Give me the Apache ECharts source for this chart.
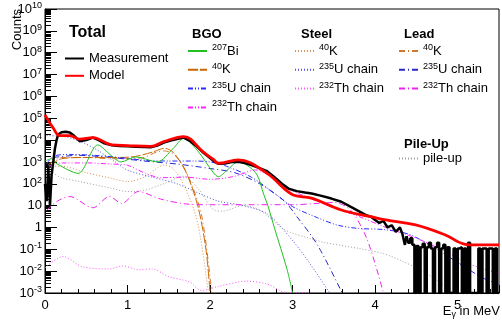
<!DOCTYPE html>
<html>
<head>
<meta charset="utf-8">
<script src="https://cdn.jsdelivr.net/npm/echarts@6/dist/echarts.min.js"></script>
<style>
  html, body { margin: 0; padding: 0; background: #fff; }
  #chart { width: 502px; height: 329px; }
</style>
</head>
<body>
<div id="chart"></div>
<script>
// [E in MeV, counts]
const measurement = [
  [0.00, 100], [0.02, 16], [0.04, 630], [0.06, 10], [0.08, 250], [0.10, 1000], [0.12, 4000],
  [0.14, 1e4], [0.16, 1.8e4], [0.20, 2.3e4], [0.25, 2.4e4], [0.30, 2.2e4], [0.35, 1.6e4],
  [0.42, 8900], [0.50, 1e4], [0.58, 1.3e4], [0.65, 1e4], [0.72, 7100], [0.81, 5800],
  [0.90, 5400], [1.00, 5200], [1.10, 5000], [1.20, 4800], [1.28, 4700], [1.36, 5600],
  [1.44, 7600], [1.52, 9500], [1.60, 1.12e4], [1.68, 1.3e4], [1.76, 8900], [1.84, 5000],
  [1.92, 2600], [2.00, 1500], [2.05, 1050], [2.10, 830], [2.18, 850], [2.26, 980],
  [2.34, 1020], [2.42, 890], [2.50, 710], [2.60, 520], [2.69, 380], [2.78, 200],
  [2.87, 100], [2.95, 60], [3.05, 46], [3.15, 40], [3.23, 36], [3.35, 28], [3.47, 21],
  [3.59, 15], [3.70, 8.9], [3.80, 5.6], [3.90, 3.5], [3.95, 3.1], [4.00, 2.2], [4.05, 1.6],
  [4.10, 2.0], [4.15, 1.0], [4.20, 1.26], [4.25, 0.63], [4.30, 1.0], [4.33, 0.5],
  [4.36, 0.16], [4.38, 0.4]
];
// sparse tail, empty bins drawn at the axis floor
const measurementTail = [
  [4.38, 0.4], [4.40, 0.2], [4.425, 0.32], [4.45, 0.16], [4.475, 0.001], [4.50, 0.14],
  [4.525, 0.001], [4.55, 0.125], [4.575, 0.18], [4.60, 0.001], [4.625, 0.125], [4.65, 0.2],
  [4.675, 0.11], [4.70, 0.001], [4.725, 0.125], [4.75, 0.2], [4.775, 0.001], [4.80, 0.11],
  [4.825, 0.16], [4.85, 0.001], [4.875, 0.125], [4.90, 0.001], [4.925, 0.001], [4.95, 0.11],
  [4.975, 0.001], [5.00, 0.11], [5.025, 0.125], [5.05, 0.001], [5.075, 0.11], [5.10, 0.001],
  [5.125, 0.2], [5.15, 0.001], [5.175, 0.001], [5.20, 0.001], [5.225, 0.001], [5.25, 0.11],
  [5.275, 0.001], [5.30, 0.11], [5.325, 0.11], [5.35, 0.001], [5.375, 0.11], [5.40, 0.11],
  [5.425, 0.001], [5.45, 0.11], [5.475, 0.001], [5.50, 0.001]
];
const model = [
  [0, 1.4e5], [0.1, 3.5e4], [0.18, 1.6e4], [0.3, 1.6e4], [0.42, 1.1e4], [0.58, 1.3e4],
  [0.81, 6000], [1.0, 5600], [1.28, 5200], [1.44, 8500], [1.68, 1.45e4], [1.92, 2800],
  [2.04, 1300], [2.10, 870], [2.34, 1230], [2.69, 300], [2.99, 33], [3.23, 22], [3.59, 6.3],
  [3.95, 3.1], [4.13, 2.2], [4.49, 1.3], [4.85, 0.45], [5.09, 0.17], [5.2, 0.16], [5.5, 0.16]
];
const bgoBi = [
  [0, 1100], [0.08, 1400], [0.15, 800], [0.4, 300], [0.64, 6000], [0.8, 2000], [0.92, 1000],
  [1.1, 1700], [1.36, 1000], [1.55, 4000], [1.68, 1.2e4], [1.85, 3200], [2.04, 320],
  [2.10, 210], [2.2, 400], [2.34, 1000], [2.45, 700], [2.57, 250], [2.65, 32], [2.7, 10],
  [2.78, 0.93], [2.93, 0.013], [3.0, 0.001]
];
const bgoK = [
  [0.05, 630], [0.2, 1400], [0.5, 1600], [0.9, 1600], [1.1, 1800], [1.3, 2800], [1.45, 4200],
  [1.55, 2800], [1.7, 400], [1.85, 10], [1.95, 0.1], [2.0, 0.001]
];
const bgoU = [
  [0.02, 800], [0.1, 1800], [0.3, 2200], [0.6, 2000], [0.9, 1600], [1.2, 1200], [1.5, 1100],
  [1.8, 1100], [2.0, 1000], [2.2, 630], [2.5, 200], [2.8, 32], [3.0, 9], [3.3, 2.8],
  [3.55, 1.26], [3.8, 0.9], [4.1, 0.8], [4.4, 0.5], [4.7, 0.13], [5.0, 0.025], [5.3, 0.005],
  [5.5, 0.0025]
];
const bgoTh = [
  [0.05, 630], [0.2, 900], [0.5, 900], [0.8, 800], [1.0, 700], [1.2, 320], [1.4, 190],
  [1.7, 200], [2.0, 160], [2.3, 220], [2.55, 430], [2.75, 200], [2.9, 70], [3.1, 32],
  [3.3, 16], [3.5, 8], [3.8, 3.2], [4.13, 1.0], [4.5, 0.32], [4.85, 0.08], [5.1, 0.025],
  [5.3, 0.013], [5.5, 0.008]
];
const steelK = [
  [0.05, 630], [0.2, 630], [0.5, 320], [0.8, 180], [1.0, 126], [1.2, 200], [1.35, 500],
  [1.44, 720], [1.55, 500], [1.7, 63], [1.85, 1.6], [1.98, 0.001]
];
const steelU = [
  [0.02, 1.6e4], [0.25, 1.4e4], [0.45, 8000], [0.65, 3200], [0.85, 1000], [1.0, 420],
  [1.3, 200], [1.6, 100], [1.9, 32], [2.1, 16], [2.4, 10], [2.7, 4], [3.0, 0.25],
  [3.2, 0.025], [3.45, 0.001]
];
const steelTh = [
  [0, 0.014], [0.22, 0.047], [0.45, 0.016], [0.78, 0.0126], [0.94, 0.0174], [1.14, 0.0115],
  [1.3, 0.0126], [1.5, 0.0056], [1.75, 0.0032], [1.9, 0.0013], [2.1, 0.002], [2.45, 0.0035],
  [2.7, 0.0025], [2.9, 0.0011], [3.2, 0.001]
];
const leadK = [
  [0.05, 800], [0.2, 1600], [0.5, 1600], [0.8, 1400], [1.0, 1400], [1.2, 1600], [1.35, 2800],
  [1.45, 3200], [1.6, 1600], [1.75, 160], [1.9, 3.2], [2.02, 0.001]
];
const leadU = [
  [0.1, 1600], [0.4, 2000], [0.8, 1600], [1.2, 1100], [1.6, 800], [2.0, 500], [2.3, 320],
  [2.6, 100], [2.9, 16], [3.05, 3.2], [3.3, 0.16], [3.6, 0.001]
];
const leadTh = [
  [0.02, 6], [0.15, 16], [0.3, 26], [0.58, 8], [0.78, 26], [0.93, 12.6], [1.13, 44],
  [1.4, 20], [1.7, 12], [2.0, 11], [2.5, 11], [3.0, 11], [3.3, 12.6], [3.5, 14],
  [3.7, 6.3], [3.9, 0.3], [4.1, 0.001]
];
const pileUp = [
  [0.03, 1000], [0.1, 320], [0.2, 190], [0.42, 126], [0.8, 63], [1.0, 44], [1.2, 50],
  [1.44, 100], [1.68, 220], [1.85, 63], [2.05, 6.3], [2.15, 5.6], [2.4, 10], [2.6, 6.3],
  [2.9, 0.8], [3.2, 0.32], [3.4, 0.2], [3.8, 0.11], [4.1, 0.063], [4.3, 0.032],
  [4.5, 0.014], [4.7, 0.005], [4.85, 0.002], [4.95, 0.001]
];

const font = 'Liberation Sans';
const rich = {
  n: { fontSize: 13, lineHeight: 16, fontFamily: font, color: '#000' },
  s: { fontSize: 9, lineHeight: 10, verticalAlign: 'top', fontFamily: font, color: '#000' }
};
const legendText = {
  'Measurement': '{n|Measurement}', 'Model': '{n|Model}',
  'BGO 207Bi': '{s|207}{n|Bi}', 'BGO 40K': '{s|40}{n|K}',
  'BGO 235U': '{s|235}{n|U chain}', 'BGO 232Th': '{s|232}{n|Th chain}',
  'Steel 40K': '{s|40}{n|K}', 'Steel 235U': '{s|235}{n|U chain}', 'Steel 232Th': '{s|232}{n|Th chain}',
  'Lead 40K': '{s|40}{n|K}', 'Lead 235U': '{s|235}{n|U chain}', 'Lead 232Th': '{s|232}{n|Th chain}',
  'pile-up': '{n|pile-up}'
};

function comp(name, data, color, dash) {
  return {
    name, type: 'line', data, smooth: 0.3, symbol: 'none', z: 2, color,
    lineStyle: { color, width: 1, type: dash }
  };
}

function legendBox(names, left, top) {
  return {
    data: names, left, top, orient: 'vertical', padding: 0,
    itemWidth: 19, itemHeight: 10, itemGap: 4.3,
    itemStyle: { opacity: 0 },
    formatter: name => legendText[name],
    textStyle: { rich }
  };
}

const chart = echarts.init(document.getElementById('chart'));
chart.setOption({
  animation: false,
  grid: { left: 45, right: -2, top: 9, bottom: 36, show: true, borderColor: '#000', borderWidth: 1 },
  xAxis: {
    type: 'value', min: 0, max: 5.5, interval: 1,
    axisLine: { lineStyle: { color: '#000' } },
    axisTick: { inside: true, length: 8, lineStyle: { color: '#000' } },
    minorTick: { show: true, splitNumber: 5, length: 4, lineStyle: { color: '#000' } },
    splitLine: { show: false },
    axisLabel: {
      fontSize: 13, fontFamily: font, color: '#000', margin: 6,
      formatter: v => (Number.isInteger(v) ? String(v) : '')
    }
  },
  yAxis: {
    type: 'log', min: 0.001, max: 1e10, interval: 1,
    axisLine: { lineStyle: { color: '#000' } },
    axisTick: { inside: true, length: 12, lineStyle: { color: '#000' } },
    minorTick: { show: true, splitNumber: 10, length: 6, lineStyle: { color: '#000' } },
    splitLine: { show: false },
    axisLabel: {
      margin: 3, rich,
      formatter: v => {
        const e = Math.round(Math.log10(v));
        if (e === 0) return '{n|1}';
        if (e === 1) return '{n|10}';
        return '{n|10}{s|' + (e < 0 ? '-' + (-e) : e) + '}';
      }
    }
  },
  title: [
    { text: 'Total', left: 64, top: 20, textStyle: { fontSize: 16, fontWeight: 'bold', fontFamily: font, color: '#000' } },
    { text: 'BGO', left: 187, top: 23, textStyle: { fontSize: 13, fontWeight: 'bold', fontFamily: font, color: '#000' } },
    { text: 'Steel', left: 296, top: 23, textStyle: { fontSize: 13, fontWeight: 'bold', fontFamily: font, color: '#000' } },
    { text: 'Lead', left: 399, top: 23, textStyle: { fontSize: 13, fontWeight: 'bold', fontFamily: font, color: '#000' } },
    { text: 'Pile-Up', left: 399, top: 133, textStyle: { fontSize: 13, fontWeight: 'bold', fontFamily: font, color: '#000' } }
  ],
  legend: [
    legendBox(['Measurement', 'Model'], 64, 52),
    legendBox(['BGO 207Bi', 'BGO 40K', 'BGO 235U', 'BGO 232Th'], 187, 43),
    legendBox(['Steel 40K', 'Steel 235U', 'Steel 232Th'], 294, 43),
    legendBox(['Lead 40K', 'Lead 235U', 'Lead 232Th'], 398, 43),
    legendBox(['pile-up'], 398, 152)
  ],
  graphic: [
    { type: 'text', x: 17, y: 9, rotation: Math.PI / 2,
      style: { text: 'Counts', font: '13px "Liberation Sans"', fill: '#000', align: 'right', verticalAlign: 'middle' } },
    { type: 'text', right: 2, top: 305,
      style: { text: '{n|E}{b|γ}{n| in MeV}', fill: '#000',
        rich: {
          n: { fontSize: 13, lineHeight: 16, fontFamily: font, color: '#000' },
          b: { fontSize: 9, lineHeight: 10, verticalAlign: 'bottom', fontFamily: font, color: '#000' }
        } } }
  ],
  series: [
    comp('pile-up', pileUp, '#a0a0a0', [1, 2]),
    comp('Steel 40K', steelK, '#d4935a', [1, 2]),
    comp('Steel 235U', steelU, '#5050dd', [1, 2]),
    comp('Steel 232Th', steelTh, '#ff55ff', [1, 2]),
    comp('Lead 40K', leadK, '#d2782a', [6, 3, 1, 3]),
    comp('Lead 235U', leadU, '#2828c8', [6, 3, 1, 3]),
    comp('Lead 232Th', leadTh, '#ee22ee', [6, 3, 1, 3]),
    comp('BGO 40K', bgoK, '#cc6600', [10, 2]),
    comp('BGO 235U', bgoU, '#2a2aff', [5, 2, 1, 2, 1, 2]),
    comp('BGO 232Th', bgoTh, '#ff22ff', [5, 2, 1, 2, 1, 2]),
    comp('BGO 207Bi', bgoBi, '#22c022', 'solid'),
    { name: 'Measurement', type: 'line', data: measurement, symbol: 'none', z: 3, color: '#000',
      lineStyle: { color: '#000', width: 2.5 } },
    { name: 'Measurement', type: 'line', data: measurementTail, step: 'end', symbol: 'none', z: 3, color: '#000',
      lineStyle: { color: '#000', width: 2.5 } },
    { name: 'Model', type: 'line', data: model, smooth: 0.4, symbol: 'none', z: 4, color: '#ff0000',
      lineStyle: { color: '#ff0000', width: 2.8 } }
  ]
});
</script>
</body>
</html>
